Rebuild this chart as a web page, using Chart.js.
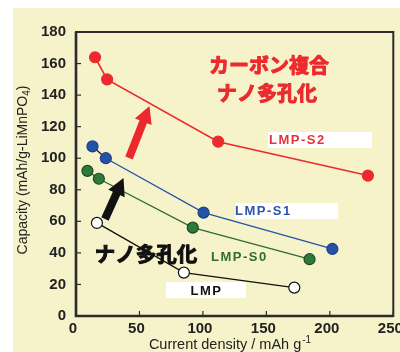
<!DOCTYPE html>
<html>
<head>
<meta charset="utf-8">
<script src="https://cdn.jsdelivr.net/npm/chart.js@4/dist/chart.umd.min.js"></script>
<style>
    html, body { margin: 0; padding: 0; background: #fff; }
    #wrap { width: 400px; height: 352px; position: relative; }
</style>
</head>
<body>
<div id="wrap"><canvas id="Capacity-chart" width="400" height="352"></canvas></div>
<script>
// values
const s2Rate = [15, 24.5, 112, 230];
const s2Cap = [164, 150, 110.5, 89];
const s1Rate = [13, 23.5, 100.5, 202];
const s1Cap = [107.5, 100, 65.5, 42.5];
const s0Rate = [9, 18, 92, 184];
const s0Cap = [92, 87, 56, 36];
const lmpRate = [16.5, 85, 172];
const lmpCap = [59, 27.5, 18];

const xTicks = [0, 50, 100, 150, 200, 250];
const yTicks = [0, 20, 40, 60, 80, 100, 120, 140, 160, 180];

const yellow = '#F6F3CA';
const frame = '#2b2b2b';
const fontLatin = '"Liberation Sans", Arial, sans-serif';
const fontJp = '"Noto Sans CJK JP", sans-serif';

function pts(xs, ys) {
    return xs.map(function (x, i) { return { x: x, y: ys[i] }; });
}

function arrow(ctx, x1, y1, x2, y2, color) {
    // fat block arrow from tail (x1,y1) to tip (x2,y2)
    let a = Math.atan2(y2 - y1, x2 - x1);
    let len = Math.hypot(x2 - x1, y2 - y1);
    let headLen = 17, headW = 9, shaftW = 4;
    ctx.save();
    ctx.translate(x1, y1);
    ctx.rotate(a);
    ctx.beginPath();
    ctx.moveTo(0, -shaftW);
    ctx.lineTo(len - headLen, -shaftW);
    ctx.lineTo(len - headLen, -headW);
    ctx.lineTo(len, 0);
    ctx.lineTo(len - headLen, headW);
    ctx.lineTo(len - headLen, shaftW);
    ctx.lineTo(0, shaftW);
    ctx.closePath();
    ctx.fillStyle = color;
    ctx.fill();
    ctx.restore();
}

function label(ctx, text, x, y, color) {
    ctx.save();
    ctx.font = 'bold 13px ' + fontLatin;
    ctx.letterSpacing = '1.5px';
    ctx.fillStyle = color;
    ctx.textAlign = 'left';
    ctx.textBaseline = 'middle';
    ctx.fillText(text, x, y);
    ctx.restore();
}

function heavyText(ctx, text, x, y, color) {
    ctx.fillStyle = color;
    ctx.strokeStyle = color;
    ctx.lineWidth = 1;
    ctx.lineJoin = 'round';
    ctx.fillText(text, x, y);
    ctx.strokeText(text, x, y);
}

function noPad(scale) {
    scale.paddingLeft = 0;
    scale.paddingRight = 0;
    scale.paddingTop = 0;
    scale.paddingBottom = 0;
}

const backdrop = {
    id: 'backdrop',
    beforeDraw: function (chart) {
        let ctx = chart.ctx;
        ctx.save();
        ctx.fillStyle = '#fff';
        ctx.fillRect(0, 0, chart.width, chart.height);
        ctx.fillStyle = yellow;
        ctx.fillRect(13, 8, chart.width - 13, chart.height - 8);
        ctx.restore();
    },
    beforeDatasetsDraw: function (chart) {
        let ctx = chart.ctx;
        let a = chart.chartArea;
        let xs = chart.scales.x, ys = chart.scales.y;
        ctx.save();
        ctx.strokeStyle = frame;
        // inner tick marks
        ctx.lineWidth = 1.2;
        xTicks.forEach(function (v) {
            let px = xs.getPixelForValue(v);
            ctx.beginPath();
            ctx.moveTo(px, a.bottom);
            ctx.lineTo(px, a.bottom - 5);
            ctx.stroke();
        });
        yTicks.forEach(function (v) {
            let py = ys.getPixelForValue(v);
            ctx.beginPath();
            ctx.moveTo(a.left, py);
            ctx.lineTo(a.left + 5, py);
            ctx.stroke();
        });
        // frame
        ctx.lineWidth = 2;
        ctx.strokeRect(a.left, a.top, a.right - a.left, a.bottom - a.top);
        ctx.lineWidth = 2.6;
        ctx.beginPath();
        ctx.moveTo(a.left, a.top);
        ctx.lineTo(a.left, a.bottom);
        ctx.lineTo(a.right, a.bottom);
        ctx.stroke();

        // axis titles
        ctx.fillStyle = '#222';
        ctx.textBaseline = 'middle';
        ctx.textAlign = 'left';
        let t1 = 'Current density / mAh g';
        ctx.font = '500 14.5px ' + fontLatin;
        let w1 = ctx.measureText(t1).width;
        ctx.font = '10px ' + fontLatin;
        let w2 = ctx.measureText('-1').width;
        let x0 = 229.5 - (w1 + w2) / 2;
        ctx.font = '500 14.5px ' + fontLatin;
        ctx.fillText(t1, x0, 345);
        ctx.font = '10px ' + fontLatin;
        ctx.fillText('-1', x0 + w1 + 1, 340);

        ctx.translate(23, 170);
        ctx.rotate(-Math.PI / 2);
        let c1 = 'Capacity (mAh/g-LiMnPO';
        ctx.font = '14px ' + fontLatin;
        let cw1 = ctx.measureText(c1).width;
        let cw3 = ctx.measureText(')').width;
        ctx.font = '10px ' + fontLatin;
        let cw2 = ctx.measureText('4').width;
        let c0 = -(cw1 + cw2 + cw3) / 2;
        ctx.font = '14px ' + fontLatin;
        ctx.fillText(c1, c0, 0);
        ctx.fillText(')', c0 + cw1 + cw2, 0);
        ctx.font = '10px ' + fontLatin;
        ctx.fillText('4', c0 + cw1, 4);
        ctx.restore();
    },
    afterDatasetsDraw: function (chart) {
        let ctx = chart.ctx;
        ctx.save();
        // label boxes
        ctx.fillStyle = '#fff';
        ctx.fillRect(268, 132, 104, 16);
        ctx.fillRect(235, 203, 103, 16);
        ctx.fillRect(166, 282, 80, 16);
        label(ctx, 'LMP-S2', 269, 140.5, '#E8323A');
        label(ctx, 'LMP-S1', 235, 211.5, '#2A55A8');
        label(ctx, 'LMP-S0', 211, 257.5, '#2E6B35');
        label(ctx, 'LMP', 190.5, 291, '#111');

        // arrows
        arrow(ctx, 129, 158, 149.5, 106, '#EC2A2E');
        arrow(ctx, 105, 219, 123.5, 178, '#111');

        // japanese notes
        ctx.textAlign = 'center';
        ctx.textBaseline = 'middle';
        ctx.font = 'bold 20px ' + fontJp;
        heavyText(ctx, 'カーボン複合', 269, 65.5, '#EC2A2E');
        heavyText(ctx, 'ナノ多孔化', 267, 93, '#EC2A2E');
        ctx.font = 'bold 20.5px ' + fontJp;
        heavyText(ctx, 'ナノ多孔化', 146, 254, '#111');
        ctx.restore();
    }
};

function series(xs, ys, line, fill, edge) {
    return {
        data: pts(xs, ys),
        borderColor: line,
        borderWidth: 1.3,
        pointRadius: 5.5,
        pointBackgroundColor: fill,
        pointBorderColor: edge,
        pointBorderWidth: 1.2,
        tension: 0
    };
}

let s1 = series(s1Rate, s1Cap, '#2452A8', '#2452A8', '#1d3f86');
// first blue segment is drawn black in the original
s1.segment = {
    borderColor: function (c) { return c.p0DataIndex === 0 ? '#111' : undefined; }
};
let s2 = series(s2Rate, s2Cap, '#EC2A2E', '#EC2A2E', '#EC2A2E');
s2.borderWidth = 1.6;

new Chart(document.getElementById('Capacity-chart'), {
    type: 'scatter',
    data: {
        datasets: [
            series(lmpRate, lmpCap, '#111', '#fff', '#111'),
            series(s0Rate, s0Cap, '#2E6B35', '#2E7A3A', '#1d4a24'),
            s1,
            s2
        ]
    },
    options: {
        responsive: false,
        animation: false,
        showLine: true,
        layout: { padding: { top: 32, right: 6, left: 0, bottom: 0 } },
        plugins: {
            legend: { display: false },
            tooltip: { enabled: false }
        },
        scales: {
            x: {
                type: 'linear',
                min: 0,
                max: 250,
                afterFit: function (scale) { scale.height = 36; noPad(scale); },
                afterBuildTicks: function (scale) {
                    scale.ticks = xTicks.map(function (v) { return { value: v }; });
                },
                border: { display: false },
                grid: { display: false, drawTicks: false },
                ticks: {
                    padding: 4,
                    labelOffset: -3,
                    maxRotation: 0,
                    color: '#222',
                    font: { family: fontLatin, size: 15, weight: 'bold' }
                }
            },
            y: {
                type: 'linear',
                min: 0,
                max: 180,
                afterFit: function (scale) { scale.width = 76; noPad(scale); },
                afterBuildTicks: function (scale) {
                    scale.ticks = yTicks.map(function (v) { return { value: v }; });
                },
                border: { display: false },
                grid: { display: false, drawTicks: false },
                ticks: {
                    padding: 10,
                    color: '#222',
                    font: { family: fontLatin, size: 15, weight: 'bold' }
                }
            }
        }
    },
    plugins: [backdrop]
});
</script>
</body>
</html>
